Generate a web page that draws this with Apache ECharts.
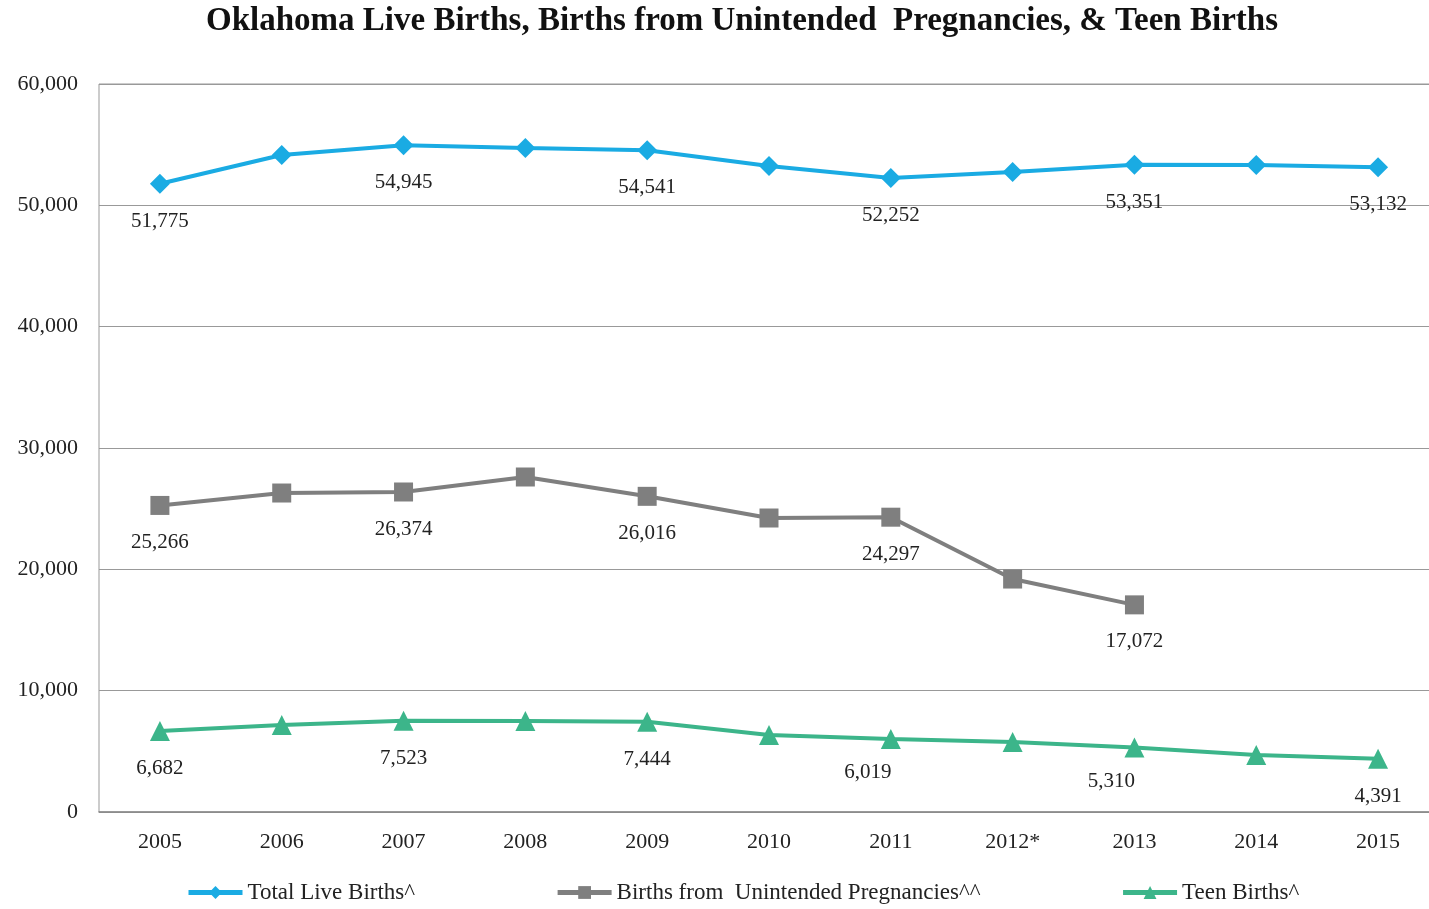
<!DOCTYPE html>
<html>
<head>
<meta charset="utf-8">
<script src="https://cdn.jsdelivr.net/npm/echarts@6/dist/echarts.min.js"></script>
<style>
  html, body { margin: 0; padding: 0; background: #fff; overflow: hidden; }
  /* plot area runs past the right edge of the window, as in the source picture */
  #chart { width: 1440px; height: 909px; }
</style>
</head>
<body>
<div id="chart"></div>
<script>
const years = ['2005', '2006', '2007', '2008', '2009', '2010', '2011', '2012*', '2013', '2014', '2015']
const totalBirths = [51775, 54150, 54945, 54730, 54541, 53240, 52252, 52750, 53351, 53330, 53132]
const unintendedBirths = [25266, 26290, 26374, 27610, 26016, 24230, 24297, 19200, 17072, null, null]
const teenBirths = [6682, 7170, 7523, 7500, 7444, 6350, 6019, 5770, 5310, 4700, 4391]
const yTicks = [0, 10000, 20000, 30000, 40000, 50000, 60000]

// which points carry a value label
const labelled = [true, false, true, false, true, false, true, false, true, false, true]

const fmt = (v) => v.toLocaleString('en-US')
const font = '"Liberation Serif", "Times New Roman", serif'

const buildData = (values, shifted) =>
  values.map((v, i) => {
    if (v == null) return null
    const item = { value: v }
    if (labelled[i]) {
      item.label = { show: true }
      if (shifted && shifted.includes(i)) item.label.offset = [-23, -4]
    } else {
      item.label = { show: false }
    }
    return item
  })

const chart = echarts.init(document.getElementById('chart'))

const baseLabel = {
  position: 'bottom',
  distance: 17,
  color: '#222',
  fontFamily: font,
  fontSize: 21,
  formatter: (p) => fmt(p.value),
}

chart.setOption({
  animation: false,
  title: {
    text: 'Oklahoma Live Births, Births from Unintended  Pregnancies, & Teen Births',
    left: 737,
    textAlign: 'center',
    top: 0,
    textStyle: { fontFamily: font, fontSize: 33, fontWeight: 'bold', color: '#111' },
  },
  legend: {
    bottom: 0,
    left: 181,
    itemGap: 140,
    itemWidth: 54,
    itemHeight: 16,
    textStyle: { fontFamily: font, fontSize: 23, color: '#222' },
    lineStyle: { width: 5 },
    data: ['Total Live Births^', 'Births from  Unintended Pregnancies^^', 'Teen Births^'],
  },
  grid: { left: 99, right: 1, top: 84, bottom: 97, show: true, borderColor: '#999', borderWidth: 1 },
  xAxis: {
    type: 'category',
    data: years,
    boundaryGap: true,
    axisLine: { lineStyle: { color: '#888', width: 1.5 } },
    axisTick: { show: false },
    axisLabel: { color: '#222', fontFamily: font, fontSize: 22, margin: 19 },
  },
  yAxis: {
    type: 'value',
    min: yTicks[0],
    max: yTicks[yTicks.length - 1],
    interval: 10000,
    axisLine: { show: false },
    axisTick: { show: false },
    splitLine: { lineStyle: { color: '#999', width: 1.2 } },
    axisLabel: { color: '#222', fontFamily: font, fontSize: 22, margin: 21, formatter: (v) => fmt(v) },
  },
  series: [
    {
      name: 'Total Live Births^',
      type: 'line',
      data: buildData(totalBirths),
      symbol: 'diamond',
      symbolSize: 20,
      lineStyle: { width: 4, color: '#1aabe3' },
      itemStyle: { color: '#1aabe3' },
      label: baseLabel,
    },
    {
      name: 'Births from  Unintended Pregnancies^^',
      type: 'line',
      data: buildData(unintendedBirths),
      symbol: 'rect',
      symbolSize: 19,
      lineStyle: { width: 4, color: '#7f7f7f' },
      itemStyle: { color: '#7f7f7f' },
      label: baseLabel,
    },
    {
      name: 'Teen Births^',
      type: 'line',
      data: buildData(teenBirths, [6, 8]),
      symbol: 'triangle',
      symbolSize: 20,
      lineStyle: { width: 4, color: '#3cb58a' },
      itemStyle: { color: '#3cb58a' },
      label: baseLabel,
    },
  ],
})

window.addEventListener('resize', () => chart.resize())
</script>
</body>
</html>
